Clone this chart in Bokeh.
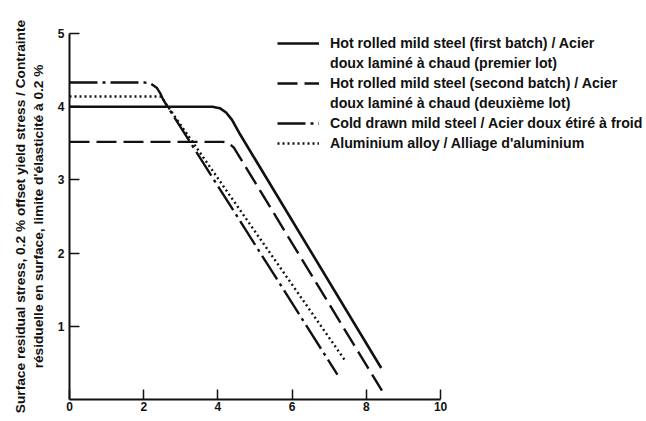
from bokeh.plotting import figure
from bokeh.models import Range1d, FixedTicker, Legend, LegendItem
from bokeh.embed import file_html
from bokeh.resources import INLINE

# ---- data ----
x_ticks = [0, 2, 4, 6, 8, 10]
y_ticks = [1, 2, 3, 4, 5]

hot1_x = [0, 3.85, 4.05, 4.22, 4.38, 4.6, 8.4]
hot1_y = [4.0, 4.0, 3.98, 3.92, 3.82, 3.62, 0.43]

hot2_x = [0, 4.14, 4.3, 4.43, 4.54, 8.42]
hot2_y = [3.52, 3.52, 3.5, 3.44, 3.35, 0.12]

cold_x = [0, 2.03, 2.2, 2.35, 2.45, 2.52, 7.22]
cold_y = [4.33, 4.33, 4.31, 4.26, 4.18, 4.1, 0.34]

alu_x = [0, 2.45, 2.52, 2.57, 7.43]
alu_y = [4.14, 4.14, 4.11, 4.06, 0.53]

labels = [
    ["Hot rolled mild steel (first batch) / Acier", "doux laminé à chaud (premier lot)"],
    ["Hot rolled mild steel (second batch) / Acier", "doux laminé à chaud (deuxième lot)"],
    ["Cold drawn mild steel / Acier doux étiré à froid"],
    ["Aluminium alloy / Alliage d'aluminium"],
]
y_label = ("Surface residual stress, 0.2 % offset yield stress / Contrainte\n"
           "résiduelle en surface, limite d'élasticité à 0.2 %")

FONT = "Liberation Sans"
INK = "#111111"

W, H = 646, 415
p = figure(width=W, height=H, output_backend="svg", toolbar_location=None,
           x_range=Range1d(0, 15.55), y_range=Range1d(0, 5),
           min_border_left=69, min_border_right=0, min_border_top=33, min_border_bottom=16)
p.outline_line_color = None
p.xgrid.visible = False
p.ygrid.visible = False
p.background_fill_color = "white"

styles = [
    dict(line_dash="solid", line_width=2.6),
    dict(line_dash="20 7", line_width=2.4),
    dict(line_dash="28 5 3 5", line_width=2.4),
    dict(line_dash="2 3", line_width=2.4),
]
series = [(hot1_x, hot1_y), (hot2_x, hot2_y), (cold_x, cold_y), (alu_x, alu_y)]

items = []
for (xs, ys), st, lab in zip(series, styles, labels):
    r = p.line(xs, ys, line_color=INK, **st)
    items.append(LegendItem(label=lab[0], renderers=[r]))
    for extra in lab[1:]:
        dummy = p.line([], [], line_alpha=0)
        items.append(LegendItem(label=extra, renderers=[dummy]))

legend = Legend(items=items, location=(208, 246), padding=0, margin=0, spacing=0,
                glyph_width=42, glyph_height=20, label_height=20, label_standoff=11,
                label_text_font=FONT, label_text_font_size="14.2px",
                label_text_font_style="bold", label_text_color=INK,
                border_line_alpha=0, background_fill_alpha=0)
p.add_layout(legend, "center")

for ax in (p.xaxis, p.yaxis):
    ax.axis_line_width = 2
    ax.axis_line_color = INK
    ax.major_tick_line_color = INK
    ax.major_tick_line_width = 1.5
    ax.major_tick_in = 10
    ax.major_tick_out = 0
    ax.minor_tick_line_color = None
    ax.major_label_text_font = FONT
    ax.major_label_text_font_size = "12px"
    ax.major_label_text_font_style = "bold"
    ax.major_label_text_color = INK

p.xaxis.ticker = FixedTicker(ticks=x_ticks)
p.xaxis.bounds = (0, 10)
p.yaxis.ticker = FixedTicker(ticks=y_ticks)
p.xaxis.major_label_standoff = 2
p.yaxis.major_label_standoff = 5

p.yaxis.axis_label = y_label
p.yaxis.axis_label_text_font = FONT
p.yaxis.axis_label_text_font_size = "13.7px"
p.yaxis.axis_label_text_font_style = "bold"
p.yaxis.axis_label_text_color = INK
p.yaxis.axis_label_standoff = 9

open("out.html", "w").write(file_html(p, INLINE))
